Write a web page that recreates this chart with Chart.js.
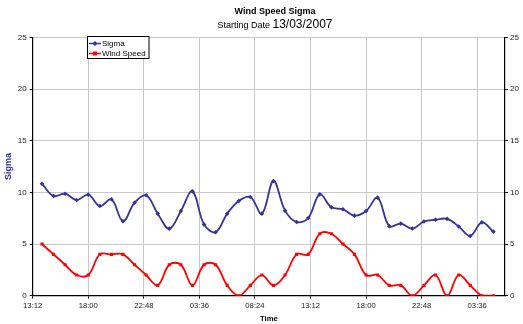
<!DOCTYPE html>
<html>
<head>
<meta charset="utf-8">
<script src="https://cdn.jsdelivr.net/npm/chart.js@4/dist/chart.umd.min.js"></script>
<style>
  html, body { margin: 0; padding: 0; background: #fff; }
  #wrap { width: 523px; height: 324px; position: relative; }
</style>
</head>
<body>
<div id="wrap"><canvas id="c" width="523" height="324"></canvas></div>
<script>
// Hours counted from 00:00 on 13/03/2007 (one reading per hour)
const hours = [14, 15, 16, 17, 18, 19, 20, 21, 22, 23,
               24, 25, 26, 27, 28, 29, 30, 31, 32, 33,
               34, 35, 36, 37, 38, 39, 40, 41, 42, 43,
               44, 45, 46, 47, 48, 49, 50, 51, 52, 53];

const sigma = [10.84, 9.65, 9.87, 9.26, 9.78, 8.68, 9.33, 7.2, 9.0, 9.72,
               7.94, 6.49, 8.2, 10.1, 6.9, 6.14, 7.94, 9.17, 9.55, 7.94,
               11.1, 8.23, 7.13, 7.52, 9.81, 8.55, 8.36, 7.75, 8.2, 9.49,
               6.73, 6.98, 6.5, 7.18, 7.35, 7.44, 6.7, 5.78, 7.1, 6.2];

const windSpeed = [5, 4, 3, 2, 2, 4, 4, 4, 3, 2,
                   1, 3, 3, 1, 3, 3, 1, 0, 1, 2,
                   1, 2, 4, 4, 6, 6, 5, 4, 2, 2,
                   1, 1, 0, 1, 2, 0, 2, 1, 0, 0];

// Time axis ticks (every 4.8 h) and range, in hours
const timeTicks = [13.2, 18, 22.8, 27.6, 32.4, 37.2, 42, 46.8, 51.6];
const timeMin = 13.2;
const timeMax = 54;
const valueTicks = [0, 5, 10, 15, 20, 25];

const seriesNames = ['Sigma', 'Wind Speed'];
const titleText = 'Wind Speed Sigma';
const subtitleLead = 'Starting Date ';
const subtitleDate = '13/03/2007';

const FONT = '"Liberation Sans", Arial, sans-serif';
const SIGMA_COLOR = '#333399';
const WIND_COLOR = '#ff0000';
const GRID = '#c8c8c8';

function fmtTime(h) {
  const m = Math.round(h * 60) % 1440;
  const hh = Math.floor(m / 60), mm = m % 60;
  return String(hh).padStart(2, '0') + ':' + String(mm).padStart(2, '0');
}

const toPoints = vals => vals.map((v, i) => ({ x: hours[i], y: v }));

// Titles and the in-plot legend box
const decorations = {
  id: 'decorations',
  afterDraw(chart) {
    const ctx = chart.ctx;
    ctx.save();
    ctx.fillStyle = '#000';
    ctx.textBaseline = 'alphabetic';
    ctx.textAlign = 'center';
    ctx.font = 'bold 9px ' + FONT;
    ctx.fillText(titleText, 275, 13.5);

    ctx.textAlign = 'left';
    ctx.font = '9px ' + FONT;
    const w1 = ctx.measureText(subtitleLead).width;
    ctx.font = '12px ' + FONT;
    const w2 = ctx.measureText(subtitleDate).width;
    const sx = 275 - (w1 + w2) / 2;
    ctx.font = '9px ' + FONT;
    ctx.fillText(subtitleLead, sx, 27.5);
    ctx.font = '12px ' + FONT;
    ctx.fillText(subtitleDate, sx + w1, 27.5);

    // legend
    const bx = 87.5, by = 36.5, bw = 61.5, bh = 22;
    ctx.fillStyle = '#fff';
    ctx.fillRect(bx, by, bw, bh);
    ctx.strokeStyle = '#000';
    ctx.lineWidth = 1;
    ctx.strokeRect(bx, by, bw, bh);
    const rows = [
      { name: seriesNames[0], color: SIGMA_COLOR, shape: 'diamond', y: 43.5 },
      { name: seriesNames[1], color: WIND_COLOR, shape: 'square', y: 53.5 }
    ];
    rows.forEach(r => {
      ctx.strokeStyle = r.color;
      ctx.lineWidth = 1.5;
      ctx.beginPath();
      ctx.moveTo(89, r.y);
      ctx.lineTo(101, r.y);
      ctx.stroke();
      ctx.fillStyle = r.color;
      ctx.beginPath();
      if (r.shape === 'diamond') {
        ctx.moveTo(95, r.y - 2.5); ctx.lineTo(97.5, r.y);
        ctx.lineTo(95, r.y + 2.5); ctx.lineTo(92.5, r.y);
        ctx.closePath();
      } else {
        ctx.rect(93, r.y - 2, 4, 4);
      }
      ctx.fill();
      ctx.fillStyle = '#000';
      ctx.font = '8px ' + FONT;
      ctx.textBaseline = 'middle';
      ctx.fillText(r.name, 102, r.y + 0.5);
    });
    ctx.restore();
  }
};

new Chart(document.getElementById('c'), {
  type: 'line',
  data: {
    datasets: [
      {
        label: seriesNames[0],
        data: toPoints(sigma),
        borderColor: SIGMA_COLOR,
        backgroundColor: SIGMA_COLOR,
        borderWidth: 1.8,
        pointStyle: 'rectRot',
        pointRadius: 2.3,
        pointBorderWidth: 0,
        tension: 0.38,
        fill: false,
        yAxisID: 'y'
      },
      {
        label: seriesNames[1],
        data: toPoints(windSpeed),
        borderColor: WIND_COLOR,
        backgroundColor: WIND_COLOR,
        borderWidth: 1.8,
        pointStyle: 'rect',
        pointRadius: 2.2,
        pointBorderWidth: 0,
        tension: 0.38,
        fill: false,
        yAxisID: 'y'
      }
    ]
  },
  options: {
    responsive: false,
    animation: false,
    devicePixelRatio: 1,
    layout: { padding: { top: 37.4, left: 0, right: 0, bottom: 0 } },
    plugins: {
      legend: { display: false },
      title: { display: false },
      tooltip: { enabled: false }
    },
    scales: {
      x: {
        type: 'linear',
        min: timeMin,
        max: timeMax,
        afterBuildTicks: s => { s.ticks = timeTicks.map(v => ({ value: v })); },
        afterFit: s => { s.height = 28.3; },
        ticks: {
          autoSkip: false,
          maxRotation: 0,
          padding: 3,
          color: '#222',
          font: { family: FONT, size: 7.7 },
          callback: v => fmtTime(v)
        },
        grid: { color: GRID, lineWidth: 1, tickColor: '#000', tickLength: 3 },
        border: { color: '#000', width: 1.2 },
        title: {
          display: true,
          text: 'Time',
          color: '#000',
          font: { family: FONT, size: 7.7, weight: 'bold' },
          padding: { top: 2, bottom: 0 }
        }
      },
      y: {
        position: 'left',
        min: 0,
        max: 25,
        afterBuildTicks: s => { s.ticks = valueTicks.map(v => ({ value: v })); },
        afterFit: s => { s.width = 32.7; },
        ticks: {
          padding: 3,
          color: '#222',
          font: { family: FONT, size: 8 }
        },
        grid: { color: GRID, lineWidth: 1, tickColor: '#000', tickLength: 3 },
        border: { color: '#000', width: 1.2 },
        title: {
          display: true,
          text: 'Sigma',
          color: SIGMA_COLOR,
          font: { family: FONT, size: 9, weight: 'bold' },
          padding: { top: 3, bottom: 0 }
        }
      },
      y2: {
        position: 'right',
        min: 0,
        max: 25,
        afterBuildTicks: s => { s.ticks = valueTicks.map(v => ({ value: v })); },
        afterFit: s => { s.width = 18; },
        ticks: {
          padding: 2,
          color: '#222',
          font: { family: FONT, size: 8 }
        },
        grid: { drawOnChartArea: false, tickColor: '#000', tickLength: 3 },
        border: { color: '#000', width: 1.2 }
      }
    }
  },
  plugins: [decorations]
});
</script>
</body>
</html>
